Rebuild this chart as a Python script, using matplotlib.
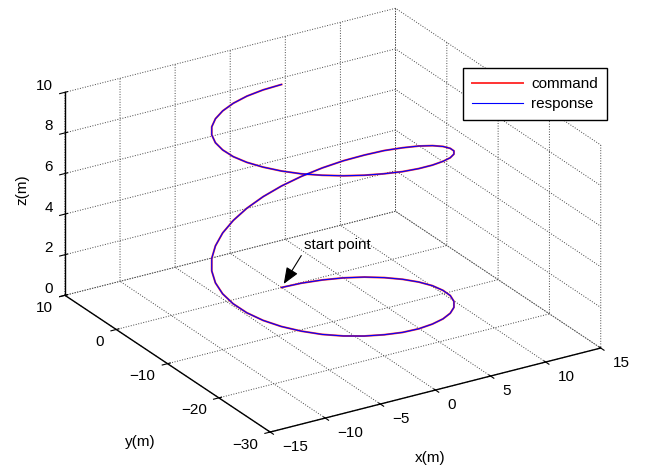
import numpy as np
import matplotlib
matplotlib.use('Agg')
import matplotlib.pyplot as plt
import matplotlib.transforms as mtransforms
from mpl_toolkits.mplot3d import proj3d

plt.rcParams['font.family'] = ['Liberation Sans', 'DejaVu Sans']
plt.rcParams['font.size'] = 11
plt.rcParams['grid.linestyle'] = ':'
plt.rcParams['grid.color'] = '#444444'
plt.rcParams['grid.linewidth'] = 0.7

# helix: circle r=10 around (0, -10), two turns,
# height samples every 10 degrees of the turn angle
center_x = 0.0
center_y = -10.0
radius = 10.0
angle_deg = list(range(0, 721, 10))
z_m = [0.00, 0.00, 0.00, 0.01, 0.02, 0.03, 0.05, 0.08, 0.12, 0.16, 0.22, 0.28, 0.35,
       0.44, 0.54, 0.65, 0.76, 0.89, 1.04, 1.19, 1.35, 1.52, 1.71, 1.90, 2.10,
       2.31, 2.53, 2.75, 2.98, 3.22, 3.47, 3.71, 3.97, 4.22, 4.48, 4.74, 5.00,
       5.26, 5.52, 5.78, 6.03, 6.29, 6.53, 6.78, 7.02, 7.25, 7.47, 7.69, 7.90,
       8.10, 8.30, 8.48, 8.65, 8.81, 8.97, 9.11, 9.24, 9.36, 9.46, 9.56, 9.65,
       9.72, 9.78, 9.84, 9.88, 9.92, 9.95, 9.97, 9.98, 9.99, 10.00, 10.00, 10.00]

x_ticks = [-15, -10, -5, 0, 5, 10, 15]
y_ticks = [-30, -20, -10, 0, 10]
z_ticks = [0, 2, 4, 6, 8, 10]

ang = np.radians(angle_deg)
x_m = center_x + radius * np.sin(ang)
y_m = center_y + radius * np.cos(ang)

fig = plt.figure(figsize=(6.53, 4.69), dpi=100)
ax = fig.add_axes([0, 8 / 469, 1, 1], projection='3d')
ax.set_proj_type('ortho')
ax.view_init(elev=24.3, azim=-121.7)
ax.set_box_aspect((389, 391, 223), zoom=1.23)

ax.plot(x_m, y_m, z_m, color='#ff3333', lw=1.4, label='command')
ax.plot(x_m, y_m, z_m, color='blue', lw=0.8, label='response')

ax.set_xlim(-15, 15)
ax.set_ylim(-30, 10)
ax.set_zlim(0, 10)
ax.set_xticks(x_ticks)
ax.set_yticks(y_ticks)
ax.set_zticks(z_ticks)

for axis in (ax.xaxis, ax.yaxis, ax.zaxis):
    axis.set_pane_color((1, 1, 1, 0))
    axis.pane.set_edgecolor((1, 1, 1, 0))
    axis.line.set_color('black')
    axis.line.set_linewidth(1.0)
    # own tick labels below, so switch off the built-in ones
    axis.set_tick_params(labelbottom=False, labeltop=False)
    axis.label.set_visible(False)
    axis.offsetText.set_visible(False)


def px_shift(dx, dy):
    # offset in screen pixels, dy positive = down
    return ax.transData + mtransforms.ScaledTranslation(dx / 100, -dy / 100,
                                                        fig.dpi_scale_trans)


def tick_text(v):
    return f'{v}'.replace('-', '\u2212')


# tick labels placed next to the axis lines like matlab does
for v in x_ticks:
    ax.text(v, -30, 0, tick_text(v), ha='left', va='center',
            transform=px_shift(12, 15))
for v in y_ticks:
    ax.text(-15, v, 0, tick_text(v), ha='right', va='center',
            transform=px_shift(-12, 12.5))
for v in z_ticks:
    ax.text(-15, 10, v, tick_text(v), ha='right', va='center',
            transform=px_shift(-12, -6.5))

# axis labels placed where the original has them
fig.text(430 / 653, 1 - 458 / 469, 'x(m)', ha='center', va='center')
fig.text(140 / 653, 1 - 442 / 469, 'y(m)', ha='center', va='center')
fig.text(22 / 653, 1 - 190 / 469, 'z(m)', ha='center', va='center',
         rotation=90)

ax.legend(loc='upper right', bbox_to_anchor=(607 / 653, 1 - 68 / 469),
          bbox_transform=fig.transFigure,
          fancybox=False, edgecolor='black', framealpha=1, borderaxespad=0,
          handlelength=3.3, handletextpad=0.55, labelspacing=0.4,
          borderpad=0.6)

# arrow to the start point
fig.canvas.draw()
sx, sy, _ = proj3d.proj_transform(x_m[0], y_m[0], z_m[0], ax.get_proj())
ax.annotate('start point', xy=(sx, sy), xycoords='data',
            xytext=(16, 28), textcoords='offset points',
            arrowprops=dict(arrowstyle='-|>,head_length=0.5,head_width=0.2',
                            color='black', lw=0.8, mutation_scale=20,
                            shrinkA=1, shrinkB=3, relpos=(0, 0)))

fig.savefig('out.png', dpi=100)
